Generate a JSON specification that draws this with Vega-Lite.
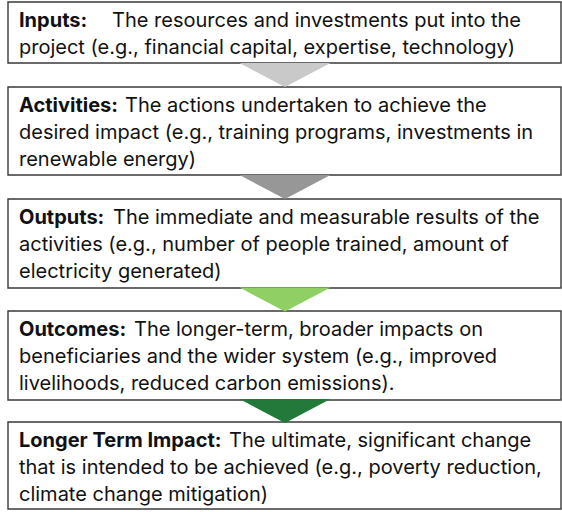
{
  "$schema": "https://vega.github.io/schema/vega-lite/v6.json",
  "width": 562,
  "height": 512,
  "padding": 0,
  "autosize": {"type": "fit", "contains": "padding"},
  "background": "white",
  "config": {"view": {"stroke": null}},
  "datasets": {
    "boxes": [
      {"stage": "Inputs", "x0": 8, "x1": 561, "top": 2, "bottom": 63},
      {"stage": "Activities", "x0": 8, "x1": 561, "top": 87, "bottom": 175},
      {"stage": "Outputs", "x0": 8, "x1": 561, "top": 199, "bottom": 288},
      {"stage": "Outcomes", "x0": 8, "x1": 561, "top": 311, "bottom": 400},
      {"stage": "Longer Term Impact", "x0": 8, "x1": 561, "top": 422, "bottom": 509}
    ],
    "arrows": [
      {"step": "Inputs to Activities", "cx": 285, "cy": 75, "color": "#c9c9c9"},
      {"step": "Activities to Outputs", "cx": 285, "cy": 187, "color": "#979797"},
      {"step": "Outputs to Outcomes", "cx": 285, "cy": 299.5, "color": "#8fcf63"},
      {"step": "Outcomes to Impact", "cx": 285, "cy": 411, "color": "#22793a"}
    ],
    "lines": [
      {"kind": "label", "x": 19, "y": 27, "text": "Inputs:"},
      {"kind": "body", "x": 112, "y": 27, "text": "The resources and investments put into the"},
      {"kind": "body", "x": 19, "y": 54, "text": "project (e.g., financial capital, expertise, technology)"},
      {"kind": "label", "x": 19, "y": 112, "text": "Activities:"},
      {"kind": "body", "x": 125, "y": 112, "text": "The actions undertaken to achieve the"},
      {"kind": "body", "x": 19, "y": 139, "text": "desired impact (e.g., training programs, investments in"},
      {"kind": "body", "x": 19, "y": 166, "text": "renewable energy)"},
      {"kind": "label", "x": 19, "y": 224, "text": "Outputs:"},
      {"kind": "body", "x": 113, "y": 224, "text": "The immediate and measurable results of the"},
      {"kind": "body", "x": 19, "y": 251, "text": "activities (e.g., number of people trained, amount of"},
      {"kind": "body", "x": 19, "y": 278, "text": "electricity generated)"},
      {"kind": "label", "x": 19, "y": 336, "text": "Outcomes:"},
      {"kind": "body", "x": 134, "y": 336, "text": "The longer-term, broader impacts on"},
      {"kind": "body", "x": 19, "y": 363, "text": "beneficiaries and the wider system (e.g., improved"},
      {"kind": "body", "x": 19, "y": 390, "text": "livelihoods, reduced carbon emissions)."},
      {"kind": "label", "x": 19, "y": 447, "text": "Longer Term Impact:"},
      {"kind": "body", "x": 229, "y": 447, "text": "The ultimate, significant change"},
      {"kind": "body", "x": 19, "y": 474, "text": "that is intended to be achieved (e.g., poverty reduction,"},
      {"kind": "body", "x": 19, "y": 501, "text": "climate change mitigation)"}
    ]
  },
  "layer": [
    {
      "data": {"name": "boxes"},
      "mark": {"type": "rect", "fill": "white", "stroke": "#3a3a3a", "strokeWidth": 1.4},
      "encoding": {
        "x": {"field": "x0", "type": "quantitative", "scale": {"domain": [0, 562], "nice": false, "zero": false}, "axis": null},
        "x2": {"field": "x1"},
        "y": {"field": "top", "type": "quantitative", "scale": {"domain": [0, 512], "nice": false, "zero": false, "reverse": true}, "axis": null},
        "y2": {"field": "bottom"}
      }
    },
    {
      "data": {"name": "arrows"},
      "mark": {"type": "point", "filled": true, "opacity": 1, "strokeWidth": 0, "size": 8281, "shape": "M-1,-0.264L1,-0.264L0,0.264Z"},
      "encoding": {
        "x": {"field": "cx", "type": "quantitative", "scale": {"domain": [0, 562], "nice": false, "zero": false}, "axis": null},
        "y": {"field": "cy", "type": "quantitative", "scale": {"domain": [0, 512], "nice": false, "zero": false, "reverse": true}, "axis": null},
        "color": {"field": "color", "type": "nominal", "scale": null, "legend": null}
      }
    },
    {
      "data": {"name": "lines"},
      "transform": [{"filter": "datum.kind === 'label'"}],
      "mark": {"type": "text", "align": "left", "baseline": "alphabetic", "font": "Inter", "fontSize": 20, "fontWeight": "bold", "color": "#111111"},
      "encoding": {
        "x": {"field": "x", "type": "quantitative", "scale": {"domain": [0, 562], "nice": false, "zero": false}, "axis": null},
        "y": {"field": "y", "type": "quantitative", "scale": {"domain": [0, 512], "nice": false, "zero": false, "reverse": true}, "axis": null},
        "text": {"field": "text"}
      }
    },
    {
      "data": {"name": "lines"},
      "transform": [{"filter": "datum.kind === 'body'"}],
      "mark": {"type": "text", "align": "left", "baseline": "alphabetic", "font": "Inter", "fontSize": 20, "color": "#111111"},
      "encoding": {
        "x": {"field": "x", "type": "quantitative", "scale": {"domain": [0, 562], "nice": false, "zero": false}, "axis": null},
        "y": {"field": "y", "type": "quantitative", "scale": {"domain": [0, 512], "nice": false, "zero": false, "reverse": true}, "axis": null},
        "text": {"field": "text"}
      }
    }
  ]
}
